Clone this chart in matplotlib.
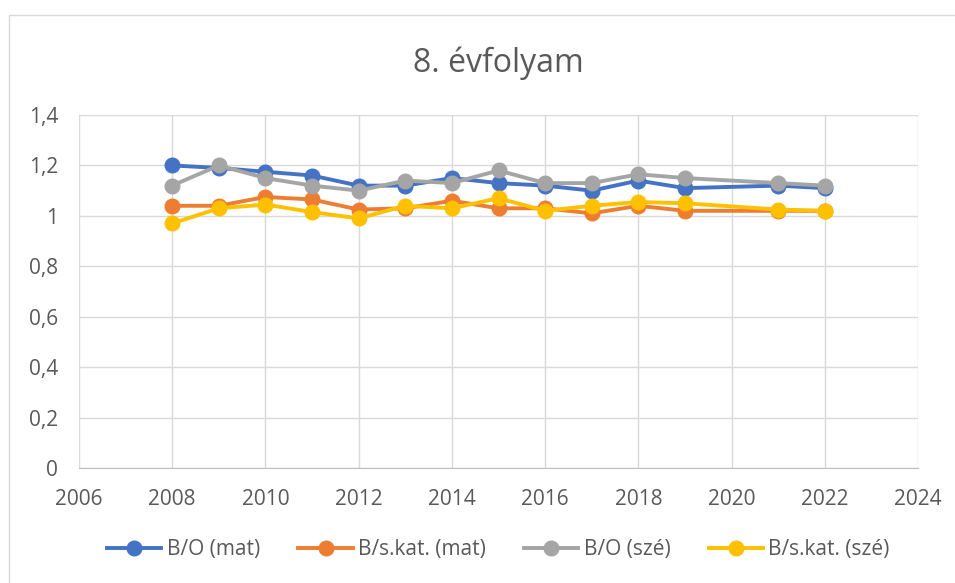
import matplotlib.pyplot as plt
from matplotlib.patches import Rectangle

# data
years = [2008, 2009, 2010, 2011, 2012, 2013, 2014, 2015, 2016, 2017, 2018, 2019, 2021, 2022]
bo_mat = [1.20, 1.19, 1.175, 1.16, 1.12, 1.12, 1.15, 1.13, 1.12, 1.10, 1.14, 1.11, 1.12, 1.11]
bs_mat = [1.04, 1.04, 1.075, 1.065, 1.025, 1.03, 1.06, 1.03, 1.03, 1.01, 1.04, 1.02, 1.02, 1.02]
bo_sze = [1.12, 1.20, 1.15, 1.12, 1.10, 1.14, 1.13, 1.18, 1.13, 1.13, 1.165, 1.15, 1.13, 1.12]
bs_sze = [0.97, 1.03, 1.045, 1.015, 0.99, 1.04, 1.03, 1.07, 1.02, 1.04, 1.055, 1.05, 1.025, 1.02]

labels = ['B/O (mat)', 'B/s.kat. (mat)', 'B/O (szé)', 'B/s.kat. (szé)']
colors = ['#4472C4', '#ED7D31', '#A5A5A5', '#FFC000']

yticks = [0, 0.2, 0.4, 0.6, 0.8, 1.0, 1.2, 1.4]
ytick_labels = ['0', '0,2', '0,4', '0,6', '0,8', '1', '1,2', '1,4']
xticks = list(range(2006, 2025, 2))

plt.rcParams['font.family'] = ['Open Sans', 'DejaVu Sans']

fig = plt.figure(figsize=(9.55, 5.83), dpi=100)
# outer chart border
fig.patches.append(Rectangle((0.0095, -0.05), 1.1, 1.025, transform=fig.transFigure,
                             fill=False, edgecolor='#D9D9D9', lw=1))

ax = fig.add_axes([0.0827, 0.1973, 0.8786, 0.6054])

for vals, lab, col in zip([bo_mat, bs_mat, bo_sze, bs_sze], labels, colors):
    ax.plot(years, vals, color=col, lw=2.8, marker='o', markersize=10.5, label=lab)

ax.set_xlim(2006, 2024)
ax.set_ylim(0, 1.4)
ax.set_xticks(xticks)
ax.set_yticks(yticks)
ax.set_yticklabels(ytick_labels)
ax.tick_params(length=0, labelsize=15, labelcolor='#595959', pad=15)
ax.grid(True, color='#D9D9D9', lw=1)
ax.set_axisbelow(True)
for s in ['top', 'right', 'left']:
    ax.spines[s].set_visible(False)
ax.spines['bottom'].set_color('#BFBFBF')

ax.set_title('8. évfolyam', fontsize=23, color='#595959', pad=31)

ax.legend(loc='center', bbox_to_anchor=(0.5, -0.232), ncol=4, frameon=False,
          fontsize=15, labelcolor='#595959', handlelength=2.6, handletextpad=0.25,
          columnspacing=1.85)

fig.savefig('out.png', dpi=100)
